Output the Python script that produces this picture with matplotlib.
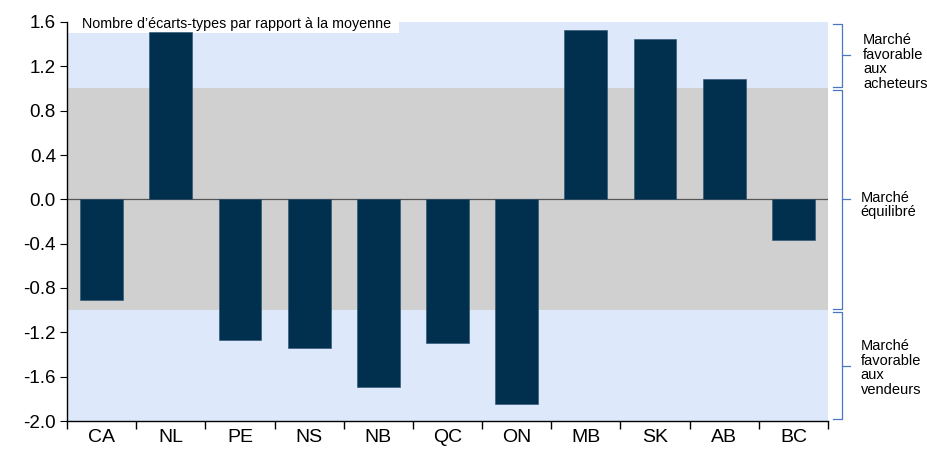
import matplotlib.pyplot as plt
import matplotlib.transforms as mtransforms
from matplotlib.patches import Rectangle
import numpy as np

plt.rcParams['font.family'] = ['Liberation Sans', 'DejaVu Sans']

provinces = ['CA', 'NL', 'PE', 'NS', 'NB', 'QC', 'ON', 'MB', 'SK', 'AB', 'BC']
ecarts = [-0.91, 1.51, -1.27, -1.34, -1.69, -1.30, -1.85, 1.53, 1.45, 1.09, -0.37]
yticks = [1.6, 1.2, 0.8, 0.4, 0.0, -0.4, -0.8, -1.2, -1.6, -2.0]
zones = [(1.0, 1.6), (-1.0, 1.0), (-2.0, -1.0)]
zone_labels = ['Marché\nfavorable\naux\nacheteurs', 'Marché\néquilibré',
               'Marché\nfavorable\naux\nvendeurs']
titre = "Nombre d\u2019écarts-types par rapport à la moyenne"

blue_bg = '#dde9fb'
gray_bg = '#d0d0d0'
bar_col = '#00304d'
brace_col = '#4a78c0'

fig = plt.figure(figsize=(9.28, 4.5), dpi=100)
ax = fig.add_axes([67/928, 1-421/450, 761/928, 399/450])

x = np.arange(len(provinces))
ax.set_xlim(-0.5, len(provinces) - 0.5)
ax.set_ylim(-2.0, 1.6)

tr = mtransforms.blended_transform_factory(ax.transAxes, ax.transData)

ax.axhspan(-2.0, 1.6, color=blue_bg, zorder=0, lw=0)
ax.axhspan(-1.0, 1.0, color=gray_bg, zorder=1, lw=0)
ax.add_patch(Rectangle((0, 1.5), 0.436, 0.1, transform=tr,
                       facecolor='white', edgecolor='none', zorder=1))
ax.axhline(0, color='#555555', lw=0.9, zorder=2)
ax.bar(x, ecarts, width=0.62, color=bar_col, edgecolor='#2a5070', linewidth=0.4, zorder=3)

ax.text(0.02, 1.585, titre, transform=tr, fontsize=10.3, va='center', ha='left', zorder=4)

# axes
for s in ['top', 'right']:
    ax.spines[s].set_visible(False)
ax.spines['left'].set_linewidth(1.0)
ax.spines['bottom'].set_linewidth(1.0)
ax.set_yticks(yticks)
ax.set_yticklabels(['%.1f' % v for v in yticks], fontsize=13.5)
ax.tick_params(axis='y', length=5, width=0.8, pad=3)
ax.set_xticks(np.arange(-0.5, len(provinces)))
ax.set_xticklabels([])
ax.tick_params(axis='x', which='major', length=6, width=1.0)
ax.set_xticks(x, minor=True)
ax.set_xticklabels(provinces, minor=True, fontsize=14)
ax.tick_params(axis='x', which='minor', length=0, pad=6)

# accolades a droite
xs0, xs1, xt = 1.007, 1.018, 1.029
gap = 0.015
text_x = [1.046, 1.043, 1.043]
text_y = [1.24, -0.05, -1.52]
for (lo, hi), lab, tx, ty in zip(zones, zone_labels, text_x, text_y):
    a, b = lo + gap, hi - gap
    mid = (lo + hi) / 2
    ax.plot([xs0, xs1, xs1, xs0], [b, b, a, a], color=brace_col, lw=0.9,
            transform=tr, clip_on=False)
    ax.plot([xs1, xt], [mid, mid], color=brace_col, lw=0.9, transform=tr, clip_on=False)
    ax.text(tx, ty, lab, transform=tr, fontsize=10.5, va='center', ha='left',
            linespacing=1.05)

fig.savefig('out.png', dpi=100)
